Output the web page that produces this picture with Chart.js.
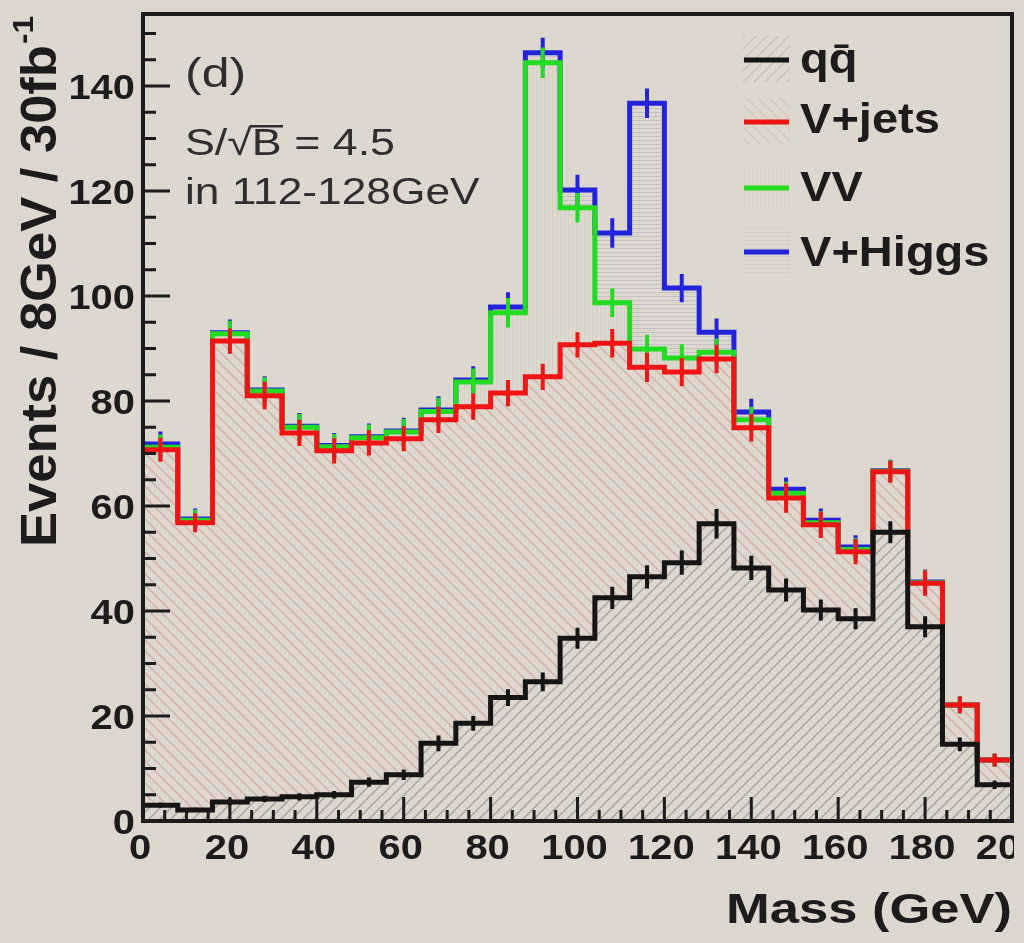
<!DOCTYPE html>
<html>
<head>
<meta charset="utf-8">
<title>Mass distribution, stacked</title>
<script src="https://cdn.jsdelivr.net/npm/chart.js@4.4.1/dist/chart.umd.min.js"></script>
<style>
  html, body { margin: 0; padding: 0; background: #ddd7ce; }
  canvas { display: block; }
</style>
</head>
<body>
<canvas id="massChart" width="1024" height="943"></canvas>
<script>
// Lower edges of the 8 GeV mass bins and the upper end of the range
const massBins = [0, 8, 16, 24, 32, 40, 48, 56, 64, 72, 80, 88, 96, 104, 112, 120, 128, 136, 144, 152, 160, 168, 176, 184, 192];
const massMax = 200;

// Events per bin for each process (stacked bottom to top)
const qqEvents    = [3.0, 2.1, 3.6, 4.2, 4.6, 5.0, 7.4, 8.8, 14.8, 18.6, 23.5, 26.5, 34.8, 42.5, 46.5, 49.2, 56.6, 48.2, 44.0, 40.2, 38.5, 55.0, 37.0, 14.6, 6.9];
const vjetsEvents = [67.7, 54.7, 87.8, 76.8, 69.3, 65.5, 64.6, 64.0, 61.6, 60.3, 58.0, 58.1, 55.9, 48.5, 39.9, 36.3, 31.4, 26.7, 17.5, 16.2, 12.8, 11.5, 8.3, 7.5, 4.7];
const vvEvents    = [0.5, 0.5, 1.4, 0.9, 1.1, 0.8, 1.0, 1.3, 1.6, 4.7, 15.3, 59.8, 26.1, 7.7, 3.5, 2.7, 1.3, 1.5, 0.9, 0.4, 0.4, 0.1, 0.1, 0.0, 0.0];
const vhEvents    = [0.6, 0.2, 0.2, 0.2, 0.2, 0.2, 0.2, 0.2, 0.3, 0.4, 1.1, 1.9, 3.4, 13.3, 46.8, 13.3, 3.8, 1.5, 0.8, 0.5, 0.5, 0.1, 0.1, 0.0, 0.0];

// Statistical uncertainty of each cumulative total
const qqTotalErr    = [0.5, 0.4, 0.6, 0.6, 0.7, 0.7, 0.9, 1.0, 1.5, 1.4, 1.6, 1.8, 2.0, 2.1, 2.2, 2.3, 2.8, 2.3, 2.2, 2.0, 2.0, 2.1, 2.0, 1.3, 0.8];
const vjetsTotalErr = [2.3, 1.8, 2.4, 2.6, 2.5, 2.4, 2.4, 2.4, 2.5, 2.5, 2.5, 2.5, 2.4, 2.7, 2.8, 2.7, 2.7, 2.6, 2.8, 2.5, 2.4, 2.1, 2.4, 1.6, 1.2];
const vvTotalErr    = [2.4, 2.0, 2.5, 2.6, 2.5, 2.4, 2.5, 2.5, 2.6, 2.6, 2.8, 2.9, 2.8, 2.7, 2.7, 2.6, 2.6, 2.5, 2.2, 2.2, 2.2, 2.1, 2.4, 1.6, 1.2];
const vhTotalErr    = [2.4, 2.0, 2.5, 2.6, 2.5, 2.4, 2.5, 2.5, 2.6, 2.6, 2.8, 2.9, 2.9, 2.8, 2.8, 2.7, 2.6, 2.5, 2.2, 2.2, 2.2, 2.1, 2.4, 1.6, 1.2];

// Legend entries and axis labels
const processNames = ['qq\u0304', 'V+jets', 'VV', 'V+Higgs'];
const massTickLabels = ['0', '20', '40', '60', '80', '100', '120', '140', '160', '180', '200'];
const eventTickLabels = ['0', '20', '40', '60', '80', '100', '120', '140'];
const xTitle = 'Mass (GeV)';
const yTitle = 'Events / 8GeV / 30fb';
const yTitleSup = '-1';
const panelTag = '(d)';
const significanceText = 'S/\u221AB = 4.5';
const windowText = 'in 112-128GeV';

// ---------- styling ----------
const BG = '#ddd7ce';
const INK = '#1c1c1c';
const SOFT_INK = '#2e2e2e';
const FONT = '"Liberation Sans", Arial, Helvetica, sans-serif';
const lineColors = ['#151515', '#f01414', '#22dc22', '#2323dc'];

function hatchPattern(kind, size, color, width) {
  const c = document.createElement('canvas');
  c.width = size; c.height = size;
  const g = c.getContext('2d');
  g.strokeStyle = color;
  g.lineWidth = width;
  g.beginPath();
  if (kind === '/') {
    g.moveTo(0, size); g.lineTo(size, 0);
    g.moveTo(-2, 2); g.lineTo(2, -2);
    g.moveTo(size - 2, size + 2); g.lineTo(size + 2, size - 2);
  } else if (kind === '\\') {
    g.moveTo(0, 0); g.lineTo(size, size);
    g.moveTo(-2, size - 2); g.lineTo(2, size + 2);
    g.moveTo(size - 2, -2); g.lineTo(size + 2, 2);
  } else if (kind === '-') {
    g.moveTo(0, 0.5); g.lineTo(size, 0.5);
  } else if (kind === '|') {
    g.moveTo(0.5, 0); g.lineTo(0.5, size);
  }
  g.stroke();
  return g.createPattern(c, 'repeat');
}

const fills = [
  hatchPattern('/', 11, 'rgba(110,105,100,0.5)', 1.3),
  hatchPattern('\\', 11, 'rgba(200,120,115,0.45)', 1.3),
  hatchPattern('|', 4, 'rgba(150,175,150,0.15)', 1),
  hatchPattern('-', 4, 'rgba(140,140,180,0.3)', 1)
];

const components = [qqEvents, vjetsEvents, vvEvents, vhEvents];
const totalErrors = [qqTotalErr, vjetsTotalErr, vvTotalErr, vhTotalErr];

// step histogram points: one point per lower bin edge plus the closing edge
const toSteps = vals => massBins.map((x, i) => ({ x, y: vals[i] }))
  .concat([{ x: massMax, y: vals[vals.length - 1] }]);

function drawText(ctx, str, x, y, size, weight, sx, align, color) {
  ctx.save();
  ctx.translate(x, y);
  ctx.scale(sx, 1);
  ctx.font = weight + ' ' + size + 'px ' + FONT;
  ctx.fillStyle = color;
  ctx.textAlign = align;
  ctx.textBaseline = 'alphabetic';
  ctx.fillText(str, 0, 0);
  ctx.restore();
}

const histDecor = {
  id: 'histDecor',
  beforeDraw(chart) {
    const ctx = chart.ctx;
    ctx.save();
    ctx.fillStyle = BG;
    ctx.fillRect(0, 0, chart.width, chart.height);
    ctx.restore();
  },
  // error bars of each cumulative total, drawn with its own histogram
  afterDatasetDraw(chart, args) {
    const d = args.index;
    const { ctx, chartArea: ca, scales: { x, y } } = chart;
    ctx.save();
    ctx.beginPath();
    ctx.rect(ca.left, ca.top, ca.right - ca.left, ca.bottom - ca.top);
    ctx.clip();
    ctx.strokeStyle = lineColors[d];
    ctx.lineWidth = 4;
    ctx.beginPath();
    for (let i = 0; i < massBins.length; i++) {
      let total = 0;
      for (let k = 0; k <= d; k++) total += components[k][i];
      const hi = i + 1 < massBins.length ? massBins[i + 1] : massMax;
      const cx = x.getPixelForValue((massBins[i] + hi) / 2);
      const err = totalErrors[d][i];
      ctx.moveTo(cx, y.getPixelForValue(total - err));
      ctx.lineTo(cx, y.getPixelForValue(total + err));
    }
    ctx.stroke();
    ctx.restore();
  },
  afterDraw(chart) {
    const { ctx, chartArea: ca, scales: { x, y } } = chart;
    ctx.save();

    // frame
    ctx.strokeStyle = INK;
    ctx.lineWidth = 4;
    ctx.strokeRect(ca.left, ca.top, ca.right - ca.left, ca.bottom - ca.top);

    // inward tick marks
    ctx.beginPath();
    for (let v = 0; v <= y.max; v += 5) {
      const py = y.getPixelForValue(v);
      const len = v % 20 === 0 ? 27 : 13;
      ctx.moveTo(ca.left, py); ctx.lineTo(ca.left + len, py);
    }
    for (let v = 0; v <= x.max; v += 5) {
      const px = x.getPixelForValue(v);
      const len = v % 20 === 0 ? 24 : 11;
      ctx.moveTo(px, ca.bottom); ctx.lineTo(px, ca.bottom - len);
    }
    ctx.lineWidth = 3;
    ctx.stroke();

    // tick labels
    eventTickLabels.forEach(lbl => {
      const py = y.getPixelForValue(parseFloat(lbl));
      drawText(ctx, lbl, ca.left - 8, py + 13, 35, 'bold', 1.14, 'right', INK);
    });
    ctx.save();
    ctx.beginPath();
    ctx.rect(0, 0, ca.right + 2, chart.height);
    ctx.clip();
    massTickLabels.forEach(lbl => {
      const px = x.getPixelForValue(parseFloat(lbl));
      drawText(ctx, lbl, px - 3, ca.bottom + 38, 35, 'bold', 1.14, 'center', INK);
    });
    ctx.restore();

    // axis titles
    drawText(ctx, xTitle, ca.right, 923, 42, 'bold', 1.25, 'right', INK);
    ctx.save();
    ctx.translate(56, 547);
    ctx.rotate(-Math.PI / 2);
    ctx.scale(1.05, 1);
    ctx.fillStyle = INK;
    ctx.textBaseline = 'alphabetic';
    ctx.textAlign = 'left';
    ctx.font = 'bold 50px ' + FONT;
    ctx.fillText(yTitle, 0, 0);
    const tw = ctx.measureText(yTitle).width;
    ctx.font = 'bold 30px ' + FONT;
    ctx.fillText(yTitleSup, tw + 1, -23);
    ctx.restore();

    // panel annotations
    drawText(ctx, panelTag, 185, 87, 40, 'normal', 1.25, 'left', SOFT_INK);
    ctx.save();
    ctx.translate(185, 155);
    ctx.scale(1.21, 1);
    ctx.font = 'normal 37px ' + FONT;
    ctx.fillStyle = SOFT_INK;
    ctx.textBaseline = 'alphabetic';
    ctx.fillText(significanceText, 0, 0);
    // vinculum of the square root over B
    const rootIdx = significanceText.indexOf('\u221A');
    const xRoot = ctx.measureText(significanceText.slice(0, rootIdx + 1));
    const xB = ctx.measureText(significanceText.slice(0, rootIdx + 2)).width;
    const top = -xRoot.actualBoundingBoxAscent;
    ctx.strokeStyle = SOFT_INK;
    ctx.lineWidth = 2.5;
    ctx.beginPath();
    ctx.moveTo(xRoot.width - 1.5, top + 1.2);
    ctx.lineTo(xB + 1, top + 1.2);
    ctx.stroke();
    ctx.restore();
    drawText(ctx, windowText, 185, 204, 36, 'normal', 1.23, 'left', SOFT_INK);

    // legend
    const legendY = [60, 122, 188, 252];
    const legendBase = [73, 133, 201, 266];
    processNames.forEach((name, i) => {
      ctx.save();
      ctx.globalAlpha = 0.4;
      ctx.fillStyle = fills[i];
      ctx.fillRect(743, legendY[i] - 24, 47, 46);
      ctx.restore();
      ctx.strokeStyle = lineColors[i];
      ctx.lineWidth = 5;
      ctx.beginPath();
      ctx.moveTo(744, legendY[i]); ctx.lineTo(789, legendY[i]);
      ctx.stroke();
      drawText(ctx, name, 800, legendBase[i], 42, 'bold', 1.12, 'left', INK);
    });

    ctx.restore();
  }
};

const datasets = components.map((vals, i) => ({
  label: processNames[i],
  data: toSteps(vals),
  borderColor: lineColors[i],
  backgroundColor: fills[i],
  borderWidth: 5,
  stepped: 'before',
  pointRadius: 0,
  fill: i === 0 ? 'origin' : '-1'
}));

new Chart(document.getElementById('massChart'), {
  type: 'line',
  data: { datasets },
  options: {
    responsive: false,
    devicePixelRatio: 1,
    animation: false,
    events: [],
    layout: { padding: { left: 143, top: 14, right: 12, bottom: 122 } },
    plugins: { legend: { display: false }, tooltip: { enabled: false } },
    scales: {
      x: { type: 'linear', min: 0, max: massMax, display: false },
      y: { type: 'linear', stacked: true, min: 0, max: 153.7, display: false }
    }
  },
  plugins: [histDecor]
});
</script>
</body>
</html>
